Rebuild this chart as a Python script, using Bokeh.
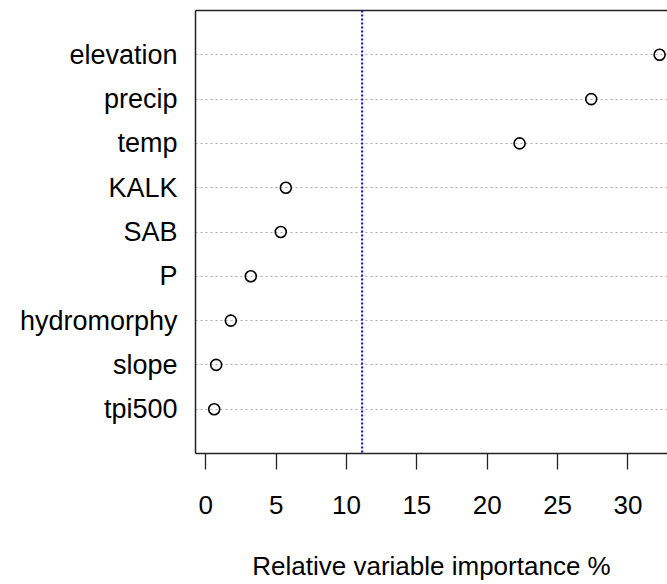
from bokeh.plotting import figure
from bokeh.models import Range1d, FactorRange, FixedTicker, LinearAxis, Span, ColumnDataSource
from bokeh.embed import file_html
from bokeh.resources import INLINE

# Data (top to bottom as displayed)
variables = ["elevation", "precip", "temp", "KALK", "SAB", "P", "hydromorphy", "slope", "tpi500"]
importance = [32.25, 27.39, 22.30, 5.69, 5.33, 3.20, 1.78, 0.74, 0.60]
x_ticks = [0, 5, 10, 15, 20, 25, 30]
threshold = 100.0 / len(variables)  # mean importance
x_label = "Relative variable importance %"

FONT = "Liberation Sans"

factors = list(reversed(variables))
src = ColumnDataSource(data=dict(var=variables, imp=importance))

p = figure(
    width=667, height=584,
    x_range=Range1d(-0.73, 32.81),
    y_range=FactorRange(factors=factors, range_padding=0.5, range_padding_units="absolute"),
    output_backend="svg", toolbar_location=None,
    min_border_left=195, min_border_right=0, min_border_top=10, min_border_bottom=131,
)
p.outline_line_color = None
p.background_fill_color = "white"
p.border_fill_color = "white"

# grid: horizontal dotted gray lines only
p.xgrid.grid_line_color = None
p.ygrid.grid_line_color = "#ADADAD"
p.ygrid.grid_line_dash = "2 3"
p.ygrid.grid_line_width = 1.2

# threshold line
p.add_layout(Span(location=threshold, dimension="height", line_color="#0000FF",
                  line_dash="2 2", line_width=2))

p.scatter(x="imp", y="var", source=src, marker="circle", size=11,
          fill_color=None, line_color="black", line_width=1.6)

# x axis
xa = p.xaxis[0]
xa.ticker = FixedTicker(ticks=x_ticks)
xa.axis_line_color = "#222222"
xa.axis_line_width = 1.5
xa.major_tick_in = 0
xa.major_tick_out = 16
xa.major_tick_line_color = "#222222"
xa.major_tick_line_width = 1.3
xa.minor_tick_line_color = None
xa.major_label_text_font = FONT
xa.major_label_text_font_size = "26px"
xa.major_label_text_color = "black"
xa.major_label_standoff = 26
xa.axis_label = x_label
xa.axis_label_text_font = FONT
xa.axis_label_text_font_size = "26px"
xa.axis_label_text_font_style = "normal"
xa.axis_label_text_color = "black"
xa.axis_label_standoff = 34

# y axis
ya = p.yaxis[0]
ya.axis_line_color = "#222222"
ya.axis_line_width = 1.5
ya.major_tick_line_color = None
ya.minor_tick_line_color = None
ya.major_label_text_font = FONT
ya.major_label_text_font_size = "27px"
ya.major_label_text_color = "black"
ya.major_label_standoff = 12

# top border line of the box
top = LinearAxis(axis_line_color="#222222", axis_line_width=1.5,
                 major_tick_line_color=None, minor_tick_line_color=None,
                 major_label_text_font_size="0px", ticker=FixedTicker(ticks=[]))
p.add_layout(top, "above")

open("out.html", "w").write(file_html(p, INLINE))
